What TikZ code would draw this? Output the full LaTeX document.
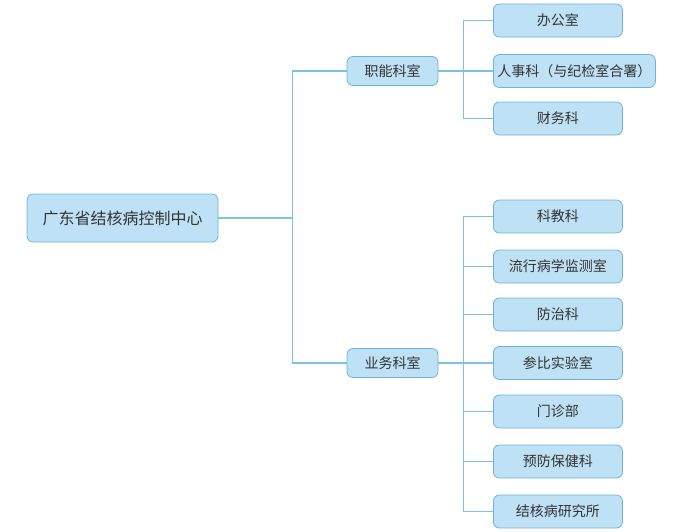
\documentclass[tikz,border=0pt]{standalone}
\usepackage{fontspec}
\setmainfont{Noto Sans CJK SC}
\definecolor{boxfill}{HTML}{BEE1F5}
\definecolor{boxline}{HTML}{6DB5D6}
\definecolor{linkc}{HTML}{7CC4DE}
\definecolor{txt}{HTML}{333333}
\tikzset{
  box/.style={draw=boxline, fill=boxfill, rounded corners=6pt, line width=0.8pt,
    text=txt, inner sep=0pt, font=\fontsize{14}{16}\selectfont},
  link/.style={draw=linkc, line width=1.3pt}
}
\begin{document}
\begin{tikzpicture}[x=1pt, y=-1pt]
    \useasboundingbox (0,0) rectangle (676,531);
    \def\leafx{493} % left edge of the leaf boxes

    % Root and the two groups
    \node[box, minimum width=191pt, minimum height=48pt, font=\fontsize{16}{18}\selectfont] (root) at (122.5,218) {广东省结核病控制中心};
    \node[box, minimum width=91pt, minimum height=29pt] (zn) at (392.5,71) {职能科室};
    \node[box, minimum width=91pt, minimum height=29pt] (yw) at (392.5,363) {业务科室};

    % Trunk
    \draw[link] (root.east) -- ++(74,0) |- (zn.west);
    \draw[link] (root.east) -- ++(74,0) |- (yw.west);

    % Leaves of the first group
    \foreach \n/\y/\w/\t in {a1/20.5/129/办公室, a2/71/162/人事科（与纪检室合署）, a3/118.5/129/财务科} {
        \node[box, minimum width=\w pt, minimum height=33pt, anchor=west] (\n) at (\leafx,\y) {\t};
        \draw[link] (zn.east) -- ++(25,0) |- (\n.west);
    }

    % Leaves of the second group
    \foreach \n/\y/\t in {b1/216.5/科教科, b2/266.5/流行病学监测室, b3/314.5/防治科, b4/363/参比实验室,
                          b5/411.5/门诊部, b6/461.5/预防保健科, b7/511.5/结核病研究所} {
        \node[box, minimum width=129pt, minimum height=33pt, anchor=west] (\n) at (\leafx,\y) {\t};
        \draw[link] (yw.east) -- ++(25,0) |- (\n.west);
    }
\end{tikzpicture}
\end{document}
